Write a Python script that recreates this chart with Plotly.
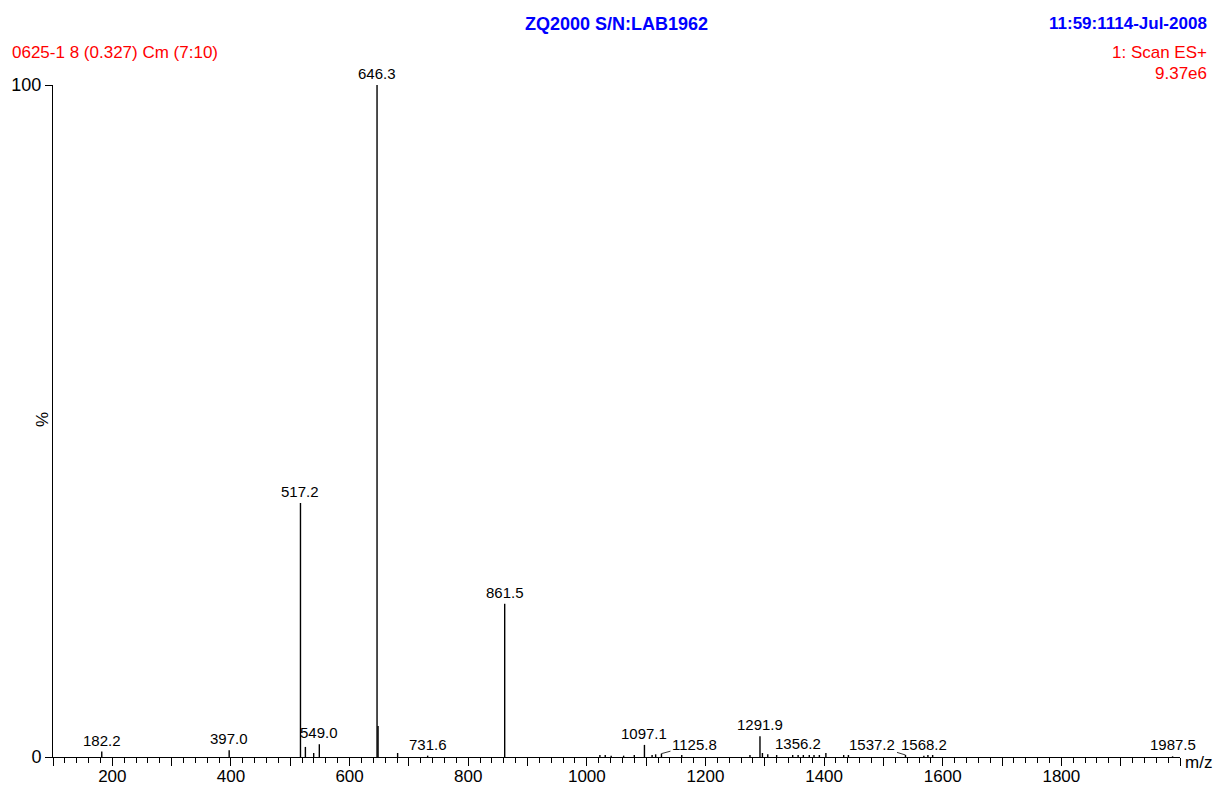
import plotly.graph_objects as go

# ---- data ----
peak_mz = [182.2, 397.0, 517.2, 525.5, 539.5, 549.0, 646.3, 648.0, 681.0, 731.6,
           861.5, 1022.0, 1031.0, 1041.0, 1062.0, 1080.0, 1097.1, 1110.0, 1116.0,
           1125.8, 1160.0, 1275.0, 1291.9, 1296.0, 1305.0, 1320.0, 1347.0, 1356.2,
           1365.0, 1375.0, 1383.0, 1392.0, 1403.0, 1433.0, 1441.0, 1537.2, 1568.2,
           1575.0, 1583.0, 1987.5]
peak_pct = [0.8, 1.0, 37.8, 1.5, 0.6, 1.9, 100.0, 4.6, 0.6, 0.2,
            22.8, 0.3, 0.3, 0.2, 0.2, 0.3, 1.8, 0.3, 0.4,
            0.5, 0.3, 0.3, 3.1, 0.6, 0.4, 0.3, 0.3, 0.3,
            0.3, 0.3, 0.3, 0.3, 0.6, 0.3, 0.3, 0.3, 0.2,
            0.3, 0.3, 0.1]

label_mz = [182.2, 397.0, 517.2, 549.0, 646.3, 731.6, 861.5, 1097.1, 1125.8,
            1291.9, 1356.2, 1537.2, 1568.2, 1987.5]

x_tick_vals = [100, 200, 300, 400, 500, 600, 700, 800, 900, 1000, 1100, 1200,
               1300, 1400, 1500, 1600, 1700, 1800, 1900, 2000]
x_tick_text = ["", "200", "", "400", "", "600", "", "800", "", "1000", "", "1200",
               "", "1400", "", "1600", "", "1800", "", ""]
y_tick_vals = [0, 100]
y_tick_text = ["0", "100"]

header_center = "ZQ2000 S/N:LAB1962"
header_right = "11:59:1114-Jul-2008"
sample_text = "0625-1 8 (0.327) Cm (7:10)"
scan_text = "1: Scan ES+"
intensity_text = "9.37e6"

# ---- build stems ----
xs, ys = [], []
for m, h in zip(peak_mz, peak_pct):
    xs += [m, m, None]
    ys += [0, h, None]

FONT = "Arial, Liberation Sans, sans-serif"

# page offset (body margin) compensation
OFF = 8
W, H = 1224 - OFF, 789 - OFF
L, R, T, B = 53 - OFF, 44, 85 - OFF, 32
pw, ph = W - L - R, H - T - B


def px(xs_):
    return (xs_ - OFF - L) / pw


def py(ys_):
    return (H - B - (ys_ - OFF)) / ph


fig = go.Figure()
fig.add_trace(go.Scatter(x=xs, y=ys, mode="lines",
                         line=dict(color="black", width=1.4),
                         hoverinfo="skip", cliponaxis=False, showlegend=False))

# leader-line labels (pixel offsets)
leaders = {1125.8: (33, -9), 1537.2: (-33, -10)}

annotations = []
for m in label_mz:
    h = peak_pct[peak_mz.index(m)]
    txt = f"{m:.1f}"
    if m in leaders:
        ax, ay = leaders[m]
        annotations.append(dict(x=m, y=h, xref="x", yref="y", text=txt,
                                showarrow=True, arrowhead=0, arrowwidth=0.8,
                                arrowcolor="black", ax=ax, ay=ay, standoff=0,
                                font=dict(family=FONT, size=15, color="black")))
    else:
        annotations.append(dict(x=m, y=h, xref="x", yref="y", text=txt,
                                showarrow=False, yanchor="bottom", yshift=1,
                                font=dict(family=FONT, size=15, color="black")))

annotations += [
    dict(x=px(616), y=py(24), xref="paper", yref="paper", text=f"<b>{header_center}</b>",
         showarrow=False, xanchor="center", yanchor="middle",
         font=dict(family=FONT, size=18, color="#0000ff")),
    dict(x=px(1209), y=py(24), xref="paper", yref="paper", text=f"<b>{header_right}</b>",
         showarrow=False, xanchor="right", yanchor="middle",
         font=dict(family=FONT, size=17, color="#0000ff")),
    dict(x=px(10), y=py(52), xref="paper", yref="paper", text=sample_text,
         showarrow=False, xanchor="left", yanchor="middle",
         font=dict(family=FONT, size=17, color="#ff0000")),
    dict(x=px(1209), y=py(52), xref="paper", yref="paper", text=scan_text,
         showarrow=False, xanchor="right", yanchor="middle",
         font=dict(family=FONT, size=17, color="#ff0000")),
    dict(x=px(1209), y=py(73), xref="paper", yref="paper", text=intensity_text,
         showarrow=False, xanchor="right", yanchor="middle",
         font=dict(family=FONT, size=17, color="#ff0000")),
    dict(x=px(42), y=py(420), xref="paper", yref="paper", text="%",
         showarrow=False, textangle=-90, xanchor="center", yanchor="middle",
         font=dict(family=FONT, size=17, color="black")),
    dict(x=px(1183), y=py(762), xref="paper", yref="paper", text="m/z",
         showarrow=False, xanchor="left", yanchor="middle",
         font=dict(family=FONT, size=17, color="black")),
]

fig.update_layout(
    width=W, height=H,
    margin=dict(l=L, r=R, t=T, b=B, autoexpand=False),
    paper_bgcolor="white", plot_bgcolor="white",
    annotations=annotations,
    xaxis=dict(range=[100, 2000], showgrid=False, zeroline=False, automargin=False,
               showline=True, linecolor="black", linewidth=1,
               tickmode="array", tickvals=x_tick_vals, ticktext=x_tick_text,
               ticks="outside", ticklen=8, tickwidth=1, tickcolor="black",
               ticklabelstandoff=-4,
               tickfont=dict(family=FONT, size=17, color="black"),
               minor=dict(tickmode="linear", tick0=0, dtick=20, ticks="outside",
                          ticklen=5, tickwidth=1, tickcolor="black", showgrid=False)),
    yaxis=dict(range=[0, 100], showgrid=False, zeroline=False, automargin=False,
               showline=True, linecolor="black", linewidth=1,
               tickmode="array", tickvals=y_tick_vals, ticktext=y_tick_text,
               ticks="outside", ticklen=7, tickwidth=1, tickcolor="black",
               tickfont=dict(family=FONT, size=18, color="black")),
)

fig.write_html("out.html")
